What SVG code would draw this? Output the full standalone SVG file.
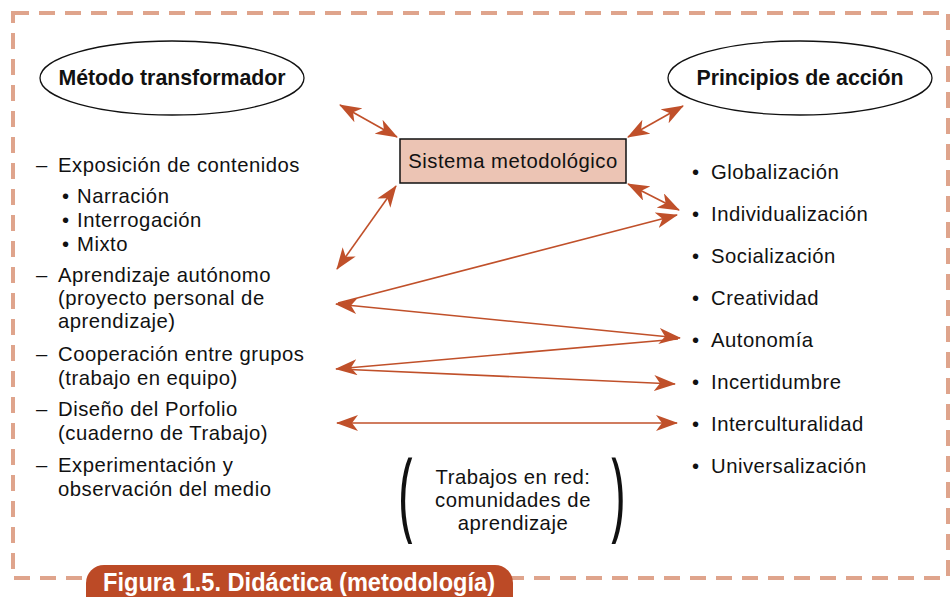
<svg xmlns="http://www.w3.org/2000/svg" width="951" height="597" viewBox="0 0 951 597">
<defs>
<marker id="ah" viewBox="0 0 22 16" refX="21" refY="8" markerWidth="22" markerHeight="16" markerUnits="userSpaceOnUse" orient="auto-start-reverse">
<path d="M0,0 L22,8 L0,16 L6,8 z" fill="#c0502a"/>
</marker>
</defs>
<style>
.t{font-family:"Liberation Sans",Arial,sans-serif;font-size:20.3px;letter-spacing:0.5px;fill:#111}
.b{font-family:"Liberation Sans",Arial,sans-serif;font-size:21.3px;font-weight:bold;fill:#111}
.p{font-family:"Open Sans","Noto Sans",sans-serif;font-size:50px;fill:#111}
.c{stroke:#c0502a;stroke-width:1.6;fill:none}
.m2{marker-start:url(#ah);marker-end:url(#ah)}
.me{marker-end:url(#ah)}
.ms{marker-start:url(#ah)}
</style>
<rect width="951" height="597" fill="#fff"/>
<rect id="frame" x="13" y="13" width="935" height="565" fill="none" stroke="#dfa48c" stroke-width="4" stroke-dasharray="16 10"/>

<g id="metodo">
<ellipse cx="172" cy="78" rx="132" ry="37" fill="#fff" stroke="#111" stroke-width="1.3"/>
<text class="b" x="172" y="85" text-anchor="middle">Método transformador</text>
</g>
<g id="principios">
<ellipse cx="800" cy="78" rx="132" ry="37" fill="#fff" stroke="#111" stroke-width="1.3"/>
<text class="b" x="800" y="85" text-anchor="middle">Principios de acción</text>
</g>
<g id="sistema">
<rect x="400" y="139" width="226" height="44" fill="#ecc4b4" stroke="#111" stroke-width="1.5"/>
<text class="t" x="513" y="168" text-anchor="middle">Sistema metodológico</text>
</g>

<g id="left-list" class="t">
<text x="36" y="172">–</text>
<text x="58" y="172">Exposición de contenidos</text>
<text x="62" y="203">•</text><text x="77" y="203">Narración</text>
<text x="62" y="227">•</text><text x="77" y="227">Interrogación</text>
<text x="62" y="251">•</text><text x="77" y="251">Mixto</text>
<text x="36" y="282">–</text>
<text x="58" y="282">Aprendizaje autónomo</text>
<text x="58" y="305">(proyecto personal de</text>
<text x="58" y="328">aprendizaje)</text>
<text x="36" y="361">–</text>
<text x="58" y="361">Cooperación entre grupos</text>
<text x="58" y="385">(trabajo en equipo)</text>
<text x="36" y="416">–</text>
<text x="58" y="416">Diseño del Porfolio</text>
<text x="58" y="440">(cuaderno de Trabajo)</text>
<text x="36" y="472">–</text>
<text x="58" y="472">Experimentación y</text>
<text x="58" y="496">observación del medio</text>
</g>

<g id="right-list" class="t">
<text x="692" y="179">•</text><text x="711" y="179">Globalización</text>
<text x="692" y="221">•</text><text x="711" y="221">Individualización</text>
<text x="692" y="263">•</text><text x="711" y="263">Socialización</text>
<text x="692" y="305">•</text><text x="711" y="305">Creatividad</text>
<text x="692" y="347">•</text><text x="711" y="347">Autonomía</text>
<text x="692" y="389">•</text><text x="711" y="389">Incertidumbre</text>
<text x="692" y="431">•</text><text x="711" y="431">Interculturalidad</text>
<text x="692" y="473">•</text><text x="711" y="473">Universalización</text>
</g>

<g id="redes">
<text class="p" x="399" y="528" transform="translate(0,528) scale(1,1.98) translate(0,-528)">(</text>
<text class="p" x="610" y="528" transform="translate(0,528) scale(1,1.98) translate(0,-528)">)</text>
<text class="t" x="513" y="484" text-anchor="middle">Trabajos en red:</text>
<text class="t" x="513" y="507" text-anchor="middle">comunidades de</text>
<text class="t" x="513" y="530" text-anchor="middle">aprendizaje</text>
</g>

<g id="connectors" class="c">
<line class="m2" x1="340" y1="105" x2="397" y2="137"/>
<line class="m2" x1="396" y1="186" x2="337" y2="269"/>
<line class="m2" x1="628" y1="137" x2="683" y2="106"/>
<line class="m2" x1="628" y1="184" x2="679" y2="210"/>
<line class="me" x1="338" y1="303" x2="677" y2="215"/>
<line class="m2" x1="336" y1="304" x2="680" y2="338"/>
<line class="ms" x1="336" y1="369" x2="678" y2="339"/>
<line class="me" x1="338" y1="369" x2="675" y2="384"/>
<line class="m2" x1="337" y1="423" x2="677" y2="423"/>
</g>

<g id="caption">
<rect x="86" y="565" width="427" height="50" rx="18" fill="#bc4a26"/>
<text x="103" y="591" font-family="Liberation Sans, Arial, sans-serif" font-size="25" font-weight="bold" fill="#fff" textLength="392" lengthAdjust="spacingAndGlyphs">Figura 1.5. Didáctica (metodología)</text>
</g>
</svg>
